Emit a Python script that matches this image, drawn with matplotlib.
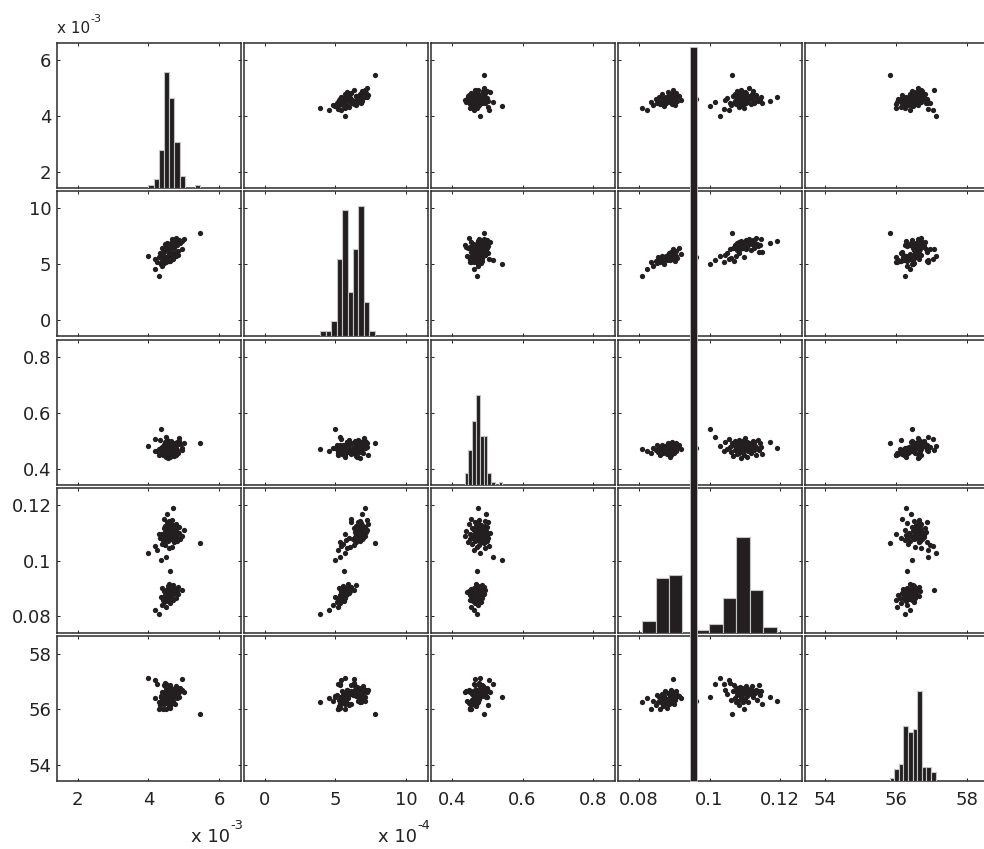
import numpy as np
import matplotlib
matplotlib.use('Agg')
import matplotlib.pyplot as plt

plt.rcParams['font.family'] = ['DejaVu Sans']

# samples: v1 in units of 1e-3, v2 in units of 1e-4
v1 = [4.30, 4.20, 4.50, 4.38, 4.62, 4.45, 4.55, 4.70, 4.42, 4.52, 4.48, 4.78, 4.58, 4.64, 4.36,
      4.50, 4.56, 4.68, 4.47, 4.60, 4.85, 4.53, 4.66, 4.74, 4.49, 4.61, 4.54, 4.72, 4.57, 4.80,
      4.44, 4.65, 4.59, 4.51, 4.95, 4.63, 4.76, 4.40, 4.69, 4.83, 4.55, 4.71, 4.58,
      4.62, 4.35, 4.50, 4.00, 4.25, 4.58, 4.66, 4.20, 4.48, 4.38, 5.47, 4.72, 4.45, 4.80, 4.55,
      4.42, 4.64, 4.90, 4.52, 4.70, 4.57, 4.76, 4.33, 4.84, 4.60, 4.47, 4.54, 4.68, 4.95, 4.56,
      4.49, 4.78, 4.63, 4.53, 4.40, 4.74, 4.30, 4.67, 4.51, 4.86, 4.59, 4.82, 4.46, 4.65, 4.55,
      4.50, 4.73, 4.57, 5.00, 4.69, 4.43, 4.79, 4.61, 4.88, 4.52, 4.48, 4.71, 4.77, 4.56, 4.54,
      4.62, 4.58, 4.67, 4.45, 4.53, 4.70]
v2 = [3.94, 4.55, 5.20, 4.85, 5.30, 5.10, 5.60, 5.40, 5.15, 5.50, 5.35, 5.70, 5.25, 5.55, 5.00,
      5.65, 5.45, 5.75, 5.58, 5.32, 5.80, 5.62, 5.48, 5.95, 5.52, 5.68, 5.38, 5.78, 5.60, 6.05,
      5.42, 5.72, 5.84, 5.56, 6.30, 5.66, 5.90, 5.28, 5.74, 6.12, 5.50, 6.45, 5.88,
      5.60, 5.00, 5.35, 5.70, 5.20, 5.80, 6.00, 5.40, 6.30, 5.55, 7.77, 6.45, 5.30, 6.70, 6.40,
      5.75, 6.55, 6.85, 6.25, 6.90, 6.60, 6.75, 5.95, 6.95, 6.50, 6.80, 6.35, 6.65, 7.05, 6.72,
      6.48, 6.88, 6.64, 6.78, 6.42, 6.92, 5.65, 6.82, 6.58, 6.98, 6.68, 7.15, 6.38, 6.86, 6.74,
      6.52, 6.94, 6.70, 7.25, 6.84, 6.28, 6.96, 6.76, 7.10, 6.66, 6.44, 6.90, 7.30, 6.80, 6.56,
      6.10, 6.72, 7.20, 6.10, 6.88, 7.08]
v3 = [0.470, 0.462, 0.455, 0.475, 0.466, 0.483, 0.459, 0.472, 0.450, 0.478, 0.463, 0.486, 0.469,
      0.457, 0.474, 0.465, 0.481, 0.461, 0.471, 0.452, 0.492, 0.467, 0.476, 0.460, 0.484, 0.442,
      0.473, 0.464, 0.448, 0.488, 0.470, 0.458, 0.495, 0.477, 0.466, 0.454, 0.480, 0.469, 0.463,
      0.490, 0.474, 0.485, 0.4695,
      0.472, 0.543, 0.515, 0.480, 0.462, 0.495, 0.470, 0.505, 0.476, 0.458, 0.490, 0.445, 0.484,
      0.466, 0.498, 0.473, 0.452, 0.487, 0.469, 0.493, 0.461, 0.478, 0.502, 0.455, 0.481, 0.471,
      0.496, 0.464, 0.475, 0.436, 0.489, 0.474, 0.499, 0.459, 0.477, 0.491, 0.450, 0.483, 0.470,
      0.508, 0.467, 0.494, 0.479, 0.473, 0.497, 0.441, 0.486, 0.463, 0.492, 0.476, 0.456, 0.488,
      0.471, 0.500, 0.468, 0.495, 0.482, 0.449, 0.474, 0.503, 0.465, 0.493, 0.477, 0.453, 0.496,
      0.475]
v4 = [0.0809, 0.0822, 0.0835, 0.0841, 0.0849, 0.0852, 0.0855, 0.0858, 0.0860, 0.0862, 0.0864,
      0.0866, 0.0868, 0.0869, 0.0871, 0.0873, 0.0875, 0.0876, 0.0878, 0.0879, 0.0881, 0.0883,
      0.0884, 0.0886, 0.0887, 0.0888, 0.0889, 0.0890, 0.0891, 0.0892, 0.0893, 0.0894, 0.0895,
      0.0896, 0.0897, 0.0899, 0.0900, 0.0902, 0.0904, 0.0906, 0.0909, 0.0913, 0.0918,
      0.0962, 0.1002, 0.1015, 0.1030, 0.1040, 0.1045, 0.1050, 0.1054, 0.1058, 0.1061, 0.1064,
      0.1067, 0.1069, 0.1071, 0.1073, 0.1074, 0.1077, 0.1078, 0.1079, 0.1080, 0.1081, 0.1082,
      0.1083, 0.1084, 0.1085, 0.1086, 0.1087, 0.1088, 0.1089, 0.1090, 0.1091, 0.1092, 0.1093,
      0.1094, 0.1095, 0.1096, 0.1097, 0.1098, 0.1099, 0.1100, 0.1101, 0.1102, 0.1104, 0.1105,
      0.1106, 0.1107, 0.1108, 0.1110, 0.1112, 0.1115, 0.1117, 0.1119, 0.1121, 0.1123, 0.1125,
      0.1127, 0.1129, 0.1132, 0.1135, 0.1138, 0.1141, 0.1144, 0.1147, 0.1150, 0.1170, 0.1190]
v5 = [56.25, 56.40, 56.02, 56.30, 56.15, 56.52, 56.28, 56.44, 56.00, 56.36, 56.22, 56.55, 56.12,
      56.33, 56.48, 56.26, 56.64, 56.38, 56.24, 56.05, 56.58, 56.31, 56.42, 56.18, 56.50, 56.29,
      56.45, 56.68, 56.23, 56.56, 56.35, 56.27, 56.62, 56.39, 57.08, 56.20, 56.53, 56.32, 56.46,
      56.66, 56.51, 56.49, 56.41,
      56.30, 56.45, 56.90, 57.12, 56.92, 56.70, 56.55, 57.05, 56.95, 56.35, 55.82, 56.65, 56.88,
      56.40, 56.68, 56.25, 56.62, 56.75, 56.50, 56.66, 56.30, 56.70, 56.15, 56.64, 56.80, 56.55,
      56.69, 56.42, 56.71, 56.63, 56.52, 56.67, 56.78, 56.28, 56.61, 56.65, 56.00, 56.58, 56.70,
      56.62, 56.38, 56.68, 56.85, 56.64, 56.48, 56.66, 56.72, 56.25, 56.63, 56.69, 56.54, 56.82,
      56.65, 56.44, 56.67, 56.61, 56.57, 56.70, 56.32, 56.64, 56.88, 56.50, 56.66, 56.18, 56.43,
      56.29]

columns = [v1, v2, v3, v4, v5]
exponents = ['-3', '-4', None, None, None]
limits = [(1.417, 6.62), (-1.456, 11.53), (0.3407, 0.862), (0.07406, 0.1262), (53.43, 58.63)]
ticks = [[2, 4, 6], [0, 5, 10], [0.4, 0.6, 0.8], [0.08, 0.1, 0.12], [54, 56, 58]]
tick_labels = [['2', '4', '6'], ['0', '5', '10'], ['0.4', '0.6', '0.8'],
               ['0.08', '0.1', '0.12'], ['54', '56', '58']]
hist_top = [50, 30, 50, 50, 50]
n_bins = 10

# the stray bar that runs down through the fourth column
spike_x = 0.09544
spike_w = 0.00179
spike_bottom = -51
spike_height = 253

INK = '#231f20'
TXT = '#222222'
W, H = 984, 849
col_left = [57, 244, 431, 618, 805]
row_top = [43, 191, 340, 488, 636]
pw, ph = 184, 145


def pos(i, j):
    return [col_left[j] / W, 1 - (row_top[i] + ph) / H, pw / W, ph / H]


fig = plt.figure(figsize=(W / 100, H / 100), dpi=100)
n = len(columns)

for i in range(n):
    for j in range(n):
        ax = fig.add_axes(pos(i, j))
        if i != j:
            ax.plot(columns[j], columns[i], 'o', ms=3.8, mew=0, color=INK)
        ax.set_xlim(limits[j])
        ax.set_ylim(limits[i])
        ax.set_xticks(ticks[j])
        ax.set_yticks(ticks[i])
        ax.set_xticklabels(tick_labels[j])
        ax.set_yticklabels(tick_labels[i])
        ax.tick_params(direction='in', length=2.5, width=0.6, top=True, right=True,
                       labelsize=13, labelcolor=TXT,
                       labelleft=(j == 0), labelbottom=(i == n - 1))
        ax.tick_params(axis='x', pad=7)
        ax.tick_params(axis='y', pad=4)
        for s in ax.spines.values():
            s.set_linewidth(1.1)
            s.set_color('#2b2b2b')

# histograms on the diagonal, in their own overlaid axes
for i in range(n):
    hax = fig.add_axes(pos(i, i))
    hax.set_zorder(3 if i != 3 else 5)
    hax.patch.set_visible(False)
    hax.axis('off')
    counts, edges = np.histogram(columns[i], bins=n_bins)
    hax.bar(edges[:-1], counts, width=np.diff(edges), align='edge',
            color=INK, edgecolor='#c4c4c4', linewidth=0.8)
    hax.set_xlim(limits[i])
    hax.set_ylim(0, hist_top[i])
    if i == 3:
        hax.bar(spike_x, spike_height, bottom=spike_bottom, width=spike_w,
                color=INK, edgecolor='#c4c4c4', linewidth=0.6, clip_on=False)


def exponent_label(x, y, exp, size, ha):
    base = fig.text(x, y, 'x 10', fontsize=size, ha=ha, va='baseline', color=TXT)
    fig.text(0, 0, '')
    plt.annotate(exp, xy=(1.0, 0.8), xycoords=base, xytext=(0.5, 0),
                 textcoords='offset points', fontsize=size * 0.72,
                 ha='left', va='bottom', color=TXT)


# scale labels: one above the first row, one under each scaled column
exponent_label(col_left[0] / W, 1 - 33 / H, exponents[0], 11, 'left')
for j in range(n):
    if exponents[j] is not None:
        exponent_label((col_left[j] + pw - 11) / W, 1 - 842 / H, exponents[j], 13, 'right')

fig.savefig('out.png', dpi=100, facecolor='white')
